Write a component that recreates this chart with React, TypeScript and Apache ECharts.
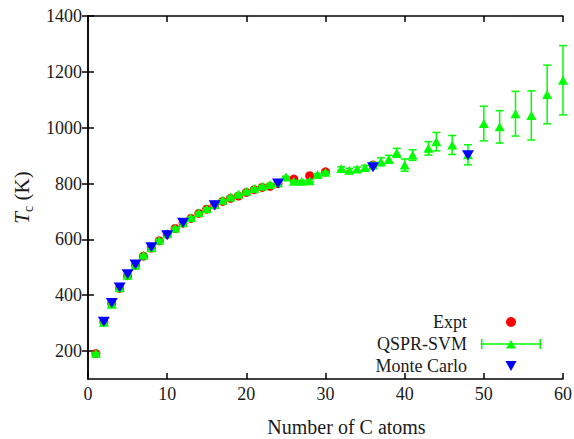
import React, { useEffect, useRef } from 'react';
import * as echarts from 'echarts';

const exptX = [1, 2, 3, 4, 5, 6, 7, 8, 9, 10, 11, 12, 13, 14, 15, 16, 17, 18, 19, 20, 21, 22, 23, 24, 26, 28, 30, 36];
const exptY = [191, 305, 370, 425, 470, 508, 540, 569, 595, 618, 639, 658, 675, 693, 708, 723, 736, 747, 755, 768, 778, 786, 790, 800, 816, 828, 842, 866];

const svmX = [1, 2, 3, 4, 5, 6, 7, 8, 9, 10, 11, 12, 13, 14, 15, 16, 17, 18, 19, 20, 21, 22, 23, 24, 25, 26, 27, 28, 29, 30,
  32, 33, 34, 35, 36, 37, 38, 39, 40, 41, 43, 44, 46, 48, 50, 52, 54, 56, 58, 60];
const svmY = [192, 303, 368, 427, 472, 507, 543, 570, 597, 620, 640, 660, 678, 695, 710, 725, 740, 752, 762, 772, 782, 790, 797, 803, 823, 808, 808, 810, 832, 840,
  854, 848, 852, 857, 866, 878, 887, 910, 866, 902, 926, 950, 938, 903, 1015, 1003, 1050, 1044, 1119, 1170];
const svmErr = [3, 3, 3, 3, 3, 3, 3, 3, 3, 3, 3, 3, 3, 3, 3, 3, 3, 3, 3, 3, 3, 3, 3, 3, 3, 3, 3, 3, 3, 3,
  6, 6, 7, 8, 10, 14, 14, 16, 22, 19, 24, 33, 34, 36, 62, 58, 80, 88, 105, 124];

const mcX = [2, 3, 4, 5, 6, 8, 10, 12, 16, 24, 36, 48];
const mcY = [305, 372, 428, 475, 510, 572, 615, 660, 722, 800, 858, 901];

const xTicks = [0, 10, 20, 30, 40, 50, 60];
const yTicks = [200, 400, 600, 800, 1000, 1200, 1400];

const FONT = 'Liberation Serif';
const TXT = '#1a1a1a';
const GREEN = '#00ff00';
const RED = '#ff0000';
const BLUE = '#0000ff';

export default function App() {
  const ref = useRef<HTMLDivElement>(null);
  useEffect(() => {
    const chart = echarts.init(ref.current!, null, { renderer: 'svg' });
    const axisLine = { show: true, lineStyle: { color: '#000', width: 1.5 } };
    const tick = { inside: true, length: 6, lineStyle: { color: '#000', width: 1.5 } };
    const option: any = {
      animation: false,
      backgroundColor: '#fff',
      textStyle: { fontFamily: FONT },
      grid: { left: 88, right: 11, top: 16, bottom: 60, containLabel: false, outerBoundsMode: 'none' },
      legend: {
        orient: 'vertical',
        right: 28,
        top: 308,
        align: 'right',
        itemWidth: 60,
        itemHeight: 10,
        itemGap: 4,
        textStyle: { fontFamily: FONT, fontSize: 18, color: TXT, padding: [0, 9, 0, 0] },
        data: [
          { name: 'Expt', icon: 'circle' },
          { name: 'QSPR-SVM', icon: 'path://M0,0H1.5V10H0Z M58.5,0H60V10H58.5Z M0,4.25H60V5.75H0Z M25,9.5L30,1L35,9.5Z' },
          { name: 'Monte Carlo', icon: 'path://M0,0L10,0L5,9Z' },
        ],
      },
      xAxis: [
        {
          type: 'value', min: 0, max: 60, interval: 10,
          name: 'Number of C atoms', nameLocation: 'middle', nameGap: 38,
          nameTextStyle: { fontFamily: FONT, fontSize: 20, lineHeight: 20, color: TXT, padding: [0, 0, 0, 42] },
          axisLine, splitLine: { show: false },
          axisTick: { ...tick, customValues: xTicks },
          axisLabel: {
            fontFamily: FONT, fontSize: 18, color: TXT, margin: 6, customValues: xTicks,
            formatter: (v: number) => String(v),
          },
        },
        {
          type: 'value', min: 0, max: 60, interval: 10, position: 'top',
          axisLine, splitLine: { show: false },
          axisTick: tick,
          axisLabel: { show: false },
        },
      ],
      yAxis: [
        {
          type: 'value', min: 100, max: 1400,
          name: '{t|T}{s|c}{n| (K)}', nameLocation: 'middle', nameRotate: 90, nameGap: 45,
          nameTextStyle: {
            fontFamily: FONT, color: TXT,
            rich: {
              t: { fontFamily: FONT, fontSize: 21, fontStyle: 'italic', color: TXT, lineHeight: 26 },
              s: { fontFamily: FONT, fontSize: 14, color: TXT, verticalAlign: 'bottom', lineHeight: 14 },
              n: { fontFamily: FONT, fontSize: 21, color: TXT, lineHeight: 26 },
            },
          },
          axisLine, splitLine: { show: false },
          axisTick: { ...tick, customValues: yTicks },
          axisLabel: {
            fontFamily: FONT, fontSize: 18, color: TXT, margin: 6, customValues: yTicks,
            formatter: (v: number) => String(v),
          },
        },
        {
          type: 'value', min: 100, max: 1400, position: 'right',
          axisLine, splitLine: { show: false },
          axisTick: { ...tick, customValues: yTicks },
          axisLabel: { show: false },
        },
      ],
      series: [
        {
          name: 'Expt', type: 'scatter', symbol: 'circle', symbolSize: 9,
          itemStyle: { color: RED, opacity: 1 },
          data: exptX.map((x, i) => [x, exptY[i]]),
          z: 2,
        },
        {
          name: 'QSPR-SVM', type: 'custom',
          itemStyle: { color: GREEN },
          data: svmX.map((x, i) => [x, svmY[i], svmErr[i]]),
          encode: { x: 0, y: 1 },
          z: 3,
          renderItem: (params: any, api: any) => {
            const x = api.value(0);
            const y = api.value(1);
            const e = api.value(2);
            const top = api.coord([x, y + e]);
            const bot = api.coord([x, y - e]);
            const hw = 4;
            const st = { stroke: GREEN, lineWidth: 1.5 };
            return {
              type: 'group',
              children: [
                { type: 'line', shape: { x1: top[0], y1: top[1], x2: bot[0], y2: bot[1] }, style: st },
                { type: 'line', shape: { x1: top[0] - hw, y1: top[1], x2: top[0] + hw, y2: top[1] }, style: st },
                { type: 'line', shape: { x1: bot[0] - hw, y1: bot[1], x2: bot[0] + hw, y2: bot[1] }, style: st },
              ],
            };
          },
        },
        {
          name: 'QSPR-SVM', type: 'scatter', symbol: 'triangle', symbolSize: [10, 9],
          itemStyle: { color: GREEN, opacity: 1 },
          data: svmX.map((x, i) => [x, svmY[i]]),
          z: 4,
        },
        {
          name: 'Monte Carlo', type: 'scatter', symbol: 'triangle', symbolRotate: 180, symbolSize: [12, 10],
          itemStyle: { color: BLUE, opacity: 1 },
          data: mcX.map((x, i) => [x, mcY[i]]),
          z: 5,
        },
      ],
    };
    chart.setOption(option);
    return () => chart.dispose();
  }, []);
  return <div ref={ref} style={{ width: 574, height: 439, position: 'absolute', left: 0, top: 0 }} />;
}
